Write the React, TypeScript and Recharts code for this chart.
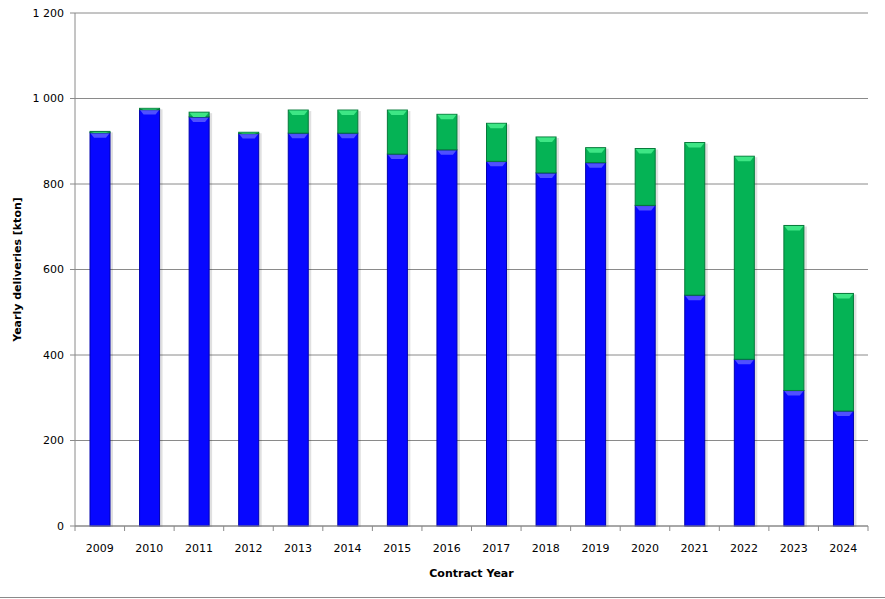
import React from "react";
import {
  Bar,
  BarChart,
  CartesianGrid,
  Label,
  XAxis,
  YAxis,
} from "recharts";

const years = [
  "2009", "2010", "2011", "2012", "2013", "2014", "2015", "2016",
  "2017", "2018", "2019", "2020", "2021", "2022", "2023", "2024",
];
const contracted = [
  920, 974, 957, 918, 919, 919, 870, 880, 853, 826, 850, 750, 540, 390, 317, 269,
];
const additional = [
  3, 3, 11, 3, 54, 54, 103, 83, 89, 84, 35, 133, 357, 475, 386, 275,
];
const yTicks = [0, 200, 400, 600, 800, 1000, 1200];

const data = years.map((year, i) => ({
  year,
  contracted: contracted[i],
  additional: additional[i],
}));

const FONT = "Verdana, 'DejaVu Sans', sans-serif";
const GRID = "#8a8a8a";

const fmt = (v: number) =>
  v >= 1000 ? `${Math.floor(v / 1000)} ${String(v % 1000).padStart(3, "0")}` : `${v}`;

const bevelBar =
  (main: string, edge: string, light: string) => (props: any) => {
    const { x, y, width, height } = props;
    if (!height || height <= 0) return null;
    const bh = Math.min(5, height);
    return (
      <g>
        <rect x={x + 2} y={y + 1} width={width + 1} height={height} fill="rgba(0,0,0,0.12)" />
        <rect x={x} y={y} width={width} height={height} fill={main} stroke={edge} strokeWidth={1} />
        <polygon
          points={`${x + 0.5},${y + 0.5} ${x + width - 0.5},${y + 0.5} ${x + width - 4},${y + bh} ${x + 4},${y + bh}`}
          fill={light}
        />
      </g>
    );
  };

const XTick = (props: any) => {
  const { x, y, payload, index } = props;
  const half = 793 / 16 / 2;
  return (
    <g>
      <line x1={x - half} y1={y - 8} x2={x - half} y2={y - 3} stroke={GRID} />
      {index === years.length - 1 && (
        <line x1={x + half} y1={y - 8} x2={x + half} y2={y - 3} stroke={GRID} />
      )}
      <text x={x} y={y + 18} textAnchor="middle" fontSize={11} fontFamily={FONT} fill="#000">
        {payload.value}
      </text>
    </g>
  );
};

export default function App() {
  return (
    <div style={{ position: "absolute", left: 0, top: 0, width: 885, height: 599, background: "#fff" }}>
      <BarChart
        width={885}
        height={599}
        data={data}
        margin={{ top: 13, right: 17, bottom: 0, left: 0 }}
        barSize={20}
      >
        <CartesianGrid vertical={false} stroke={GRID} />
        <XAxis
          dataKey="year"
          height={73}
          stroke={GRID}
          tickLine={false}
          tick={<XTick />}
          interval={0}
        >
          <Label
            content={({ viewBox }: any) => (
              <text
                x={viewBox.x + viewBox.width / 2}
                y={577}
                textAnchor="middle"
                fontSize={11}
                fontWeight="bold"
                fontFamily={FONT}
                fill="#000"
              >
                Contract Year
              </text>
            )}
          />
        </XAxis>
        <YAxis
          width={75}
          domain={[0, 1200]}
          ticks={yTicks}
          interval={0}
          stroke={GRID}
          tickSize={5}
          tickMargin={6}
          tickFormatter={fmt}
          tick={{ fill: "#000", fontSize: 11, fontFamily: FONT }}
        >
          <Label
            content={({ viewBox }: any) => {
              const cy = viewBox.y + viewBox.height / 2;
              return (
                <text
                  x={21}
                  y={cy}
                  transform={`rotate(-90, 21, ${cy})`}
                  textAnchor="middle"
                  fontSize={11}
                  fontWeight="bold"
                  fontFamily={FONT}
                  fill="#000"
                >
                  Yearly deliveries [kton]
                </text>
              );
            }}
          />
        </YAxis>
        <Bar
          dataKey="contracted"
          name="Contracted"
          stackId="a"
          isAnimationActive={false}
          shape={bevelBar("#0707ff", "#0000b0", "#5050ff")}
        />
        <Bar
          dataKey="additional"
          name="Additional"
          stackId="a"
          isAnimationActive={false}
          shape={bevelBar("#05b355", "#067a3a", "#3ee685")}
        />
      </BarChart>
      <div style={{ position: "absolute", left: 0, top: 597, width: 885, height: 1, background: GRID }} />
    </div>
  );
}
